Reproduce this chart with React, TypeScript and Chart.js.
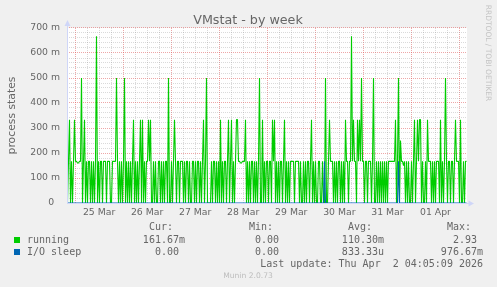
import { useEffect, useRef } from 'react';
import { Chart, registerables } from 'chart.js';

Chart.register(...registerables);

// ---------- data ----------
// time axis: hours since 25 Mar 00:00, one sample every 30 min (400 samples)
const X_MIN = -4.0;
const X_MAX = 195.75;
const dayLabels = ['25 Mar', '26 Mar', '27 Mar', '28 Mar', '29 Mar', '30 Mar', '31 Mar', '01 Apr'];
const yTickLabels = ['0', '100 m', '200 m', '300 m', '400 m', '500 m', '600 m', '700 m'];

// "running" in units of 1/6 (= 166.67 m)
const runningPart1 = [0,1,2,0,1,0,1,2,1,1, 0.96,0.96,1,1,3,0,1,2,0,1, 0,1,1,0,1,0,1,0,1,4, 0,1,0,1,1,0,1,1,1,0, 1,1,1,0,0,1,1,1,1,3];
const runningPart2 = [1,0,1,0,1,0,1,3,0,1, 0,1,0,1,0,1,2,0,1,0, 1,0,1,2,0,2,0,1,0,1, 1,2,1,2,0,0,1,0,1,0, 0,1,1,0,1,0,1,0,1,1];
const runningPart3 = [0,3,0,0,1,0,1,2,1,0, 1,1,0,1,1,1,0,1,0,1, 1,0,1,0,0,1,1,0,1,0, 1,1,0,1,0,1,2,0,1,3, 0,0,0,0,1,0,1,1,0,1];
const runningPart4 = [0,1,0,2,0,1,0,1,1,0, 1,2,0,1,2,0,1,0,1,2, 2,1,1,0.96,0.96,1,1,1,2,0, 1,0,1,0,1,1,0,1,0,1, 0,1,3,0,0,2,0,1,0,1];
const runningPart5 = [1,0,1,1,0,2,1,2,0,1, 0,1,0,1,1,0,1,2,0,1, 0,1,0,1,1,1,1,0,1,1, 1,1,0,1,0,0,1,0,1,0, 1,1,0,1,2,0,1,0,1,0];
const runningPart6 = [0,1,1,0,0,1,0,0,3,0, 0,1,2,1,1,1,0,1,0,1, 0,1,1,0,1,0,1,0,2,1, 1,0,1,1,4,1,2,1,1,0, 2,1,2,1,3,1,1,0,1,1];
const runningPart7 = [0,1,1,1,0,1,3,0,0,1, 0,1,0,1,0,1,0,1,0,1, 0,1,1,1,1,1,1,1,2,0, 1,3,0,1.5,1,1,0.9,1,0,1, 0,1,0,0,1,0,1,2,0,1];
const runningPart8 = [2,1,2,2,0,1,0,0,1,0, 2,1,1,1,0,1,0,1,0,1, 1,1,0,2,0,1,0,1,3,1, 0,1,1,0,1,1,0,1,2,1, 1,1,0,2,0,0,1,0,1,1];

// "I/O sleep" is 0 everywhere except these samples: [sample index, value in 1/6]
const ioSleepNonZero: [number, number][] = [[257, 1], [331, 1]];

const legendNames = ['running', 'I/O sleep'];
const legendColors = ['#00cc00', '#0066b3'];
const legendCur = ['161.67m', '0.00'];
const legendMin = ['0.00', '0.00'];
const legendAvg = ['110.30m', '833.33u'];
const legendMax = ['2.93', '976.67m'];
const lastUpdate = 'Last update: Thu Apr  2 04:05:09 2026';

// ---------- styling ----------
const FONT = '"DejaVu Sans"';
const MONO = '"DejaVu Sans Mono"';
const FONT_COLOR = '#666666';
const AXIS_COLOR = '#CFD6F8';
const MINOR_GRID = 'rgba(143,143,143,0.33)';
const MAJOR_GRID = 'rgba(222,79,79,0.5)';

const running = [
  ...runningPart1, ...runningPart2, ...runningPart3, ...runningPart4,
  ...runningPart5, ...runningPart6, ...runningPart7, ...runningPart8,
];
const SAMPLE_H = (X_MAX - X_MIN) / running.length;
const sampleX = (i: number) => X_MIN + (i + 0.5) * SAMPLE_H;
const runningPts = running.map((v, i) => ({ x: sampleX(i), y: v / 6 }));
const ioSleepPts = running.map((_, i) => {
  const hit = ioSleepNonZero.find((p) => p[0] === i);
  return { x: sampleX(i), y: hit ? hit[1] / 6 : 0 };
});

const xGridHours: number[] = [];
for (let h = 0; h <= X_MAX; h += 6) xGridHours.push(h);
const yGridValues: number[] = [];
for (let k = 0; k <= 35; k++) yGridValues.push(k * 0.02);

const decorPlugin = {
  id: 'decor',
  beforeDraw(chart: any) {
    const { ctx, chartArea: a } = chart;
    ctx.save();
    ctx.fillStyle = '#F0F0F0';
    ctx.fillRect(0, 0, chart.width, chart.height);
    ctx.fillStyle = '#FFFFFF';
    ctx.fillRect(a.left, a.top, a.right - a.left, a.bottom - a.top);
    ctx.restore();
  },
  afterDatasetsDraw(chart: any) {
    const { ctx, chartArea: a } = chart;
    ctx.save();
    ctx.strokeStyle = AXIS_COLOR;
    ctx.fillStyle = AXIS_COLOR;
    ctx.lineWidth = 1;
    const ax = Math.round(a.left) + 0.5;
    const ay = Math.round(a.bottom) + 0.5;
    ctx.beginPath();
    ctx.moveTo(ax, ay);
    ctx.lineTo(ax, a.top - 2);
    ctx.moveTo(ax - 0.5, ay);
    ctx.lineTo(a.right + 2, ay);
    ctx.stroke();
    // arrow up
    ctx.beginPath();
    ctx.moveTo(ax - 3, a.top - 2);
    ctx.lineTo(ax + 3, a.top - 2);
    ctx.lineTo(ax, a.top - 8);
    ctx.closePath();
    ctx.fill();
    // arrow right
    ctx.beginPath();
    ctx.moveTo(a.right + 1.5, ay - 3);
    ctx.lineTo(a.right + 1.5, ay + 3);
    ctx.lineTo(a.right + 7, ay);
    ctx.closePath();
    ctx.fill();
    ctx.restore();
  },
  afterDraw(chart: any) {
    const { ctx } = chart;
    ctx.save();
    ctx.fillStyle = FONT_COLOR;
    // title
    ctx.font = `12.7px ${FONT}`;
    ctx.textAlign = 'center';
    ctx.textBaseline = 'alphabetic';
    ctx.fillText('VMstat - by week', 248, 24);
    // y title
    ctx.save();
    ctx.translate(14.5, 115.5);
    ctx.rotate(-Math.PI / 2);
    ctx.font = `10.8px ${FONT}`;
    ctx.fillText('process states', 0, 0);
    ctx.restore();
    // watermark
    ctx.save();
    ctx.translate(485.5, 53);
    ctx.rotate(Math.PI / 2);
    ctx.font = `7.5px ${FONT}`;
    ctx.fillStyle = '#c4c4c4';
    ctx.fillText('RRDTOOL / TOBI OETIKER', 0, 0);
    ctx.restore();
    // legend
    ctx.font = `10px ${MONO}`;
    ctx.textBaseline = 'middle';
    ctx.textAlign = 'left';
    ctx.fillText('Cur:', 149, 227);
    ctx.fillText('Min:', 249, 227);
    ctx.fillText('Avg:', 348, 227);
    ctx.fillText('Max:', 447, 227);
    const pad = (s: string) => (/[a-z]$/i.test(s) ? s : s + ' ');
    legendNames.forEach((name, r) => {
      const y = 240 + r * 12;
      ctx.fillStyle = legendColors[r];
      ctx.fillRect(14, y - 3, 6, 6);
      ctx.fillStyle = FONT_COLOR;
      ctx.textAlign = 'left';
      ctx.fillText(name, 27, y);
      ctx.textAlign = 'right';
      ctx.fillText(pad(legendCur[r]), 185, y);
      ctx.fillText(pad(legendMin[r]), 285, y);
      ctx.fillText(pad(legendAvg[r]), 384, y);
      ctx.fillText(pad(legendMax[r]), 483, y);
    });
    ctx.textAlign = 'right';
    ctx.fillText(lastUpdate, 483, 264);
    // munin version
    ctx.textAlign = 'center';
    ctx.font = `7.6px ${FONT}`;
    ctx.fillStyle = '#bdbdbd';
    ctx.fillText('Munin 2.0.73', 248, 276);
    ctx.restore();
  },
};

export default function App() {
  const ref = useRef<HTMLCanvasElement | null>(null);
  useEffect(() => {
    document.body.style.margin = '0';
    const canvas = ref.current;
    if (!canvas) return;
    const chart = new Chart(canvas, {
      type: 'line',
      data: {
        datasets: [
          {
            label: 'running',
            data: runningPts,
            borderColor: legendColors[0],
            borderWidth: 1.1,
            pointRadius: 0,
            tension: 0,
            borderJoinStyle: 'bevel',
            order: 2,
          },
          {
            label: 'I/O sleep',
            data: ioSleepPts,
            borderColor: legendColors[1],
            borderWidth: 1.1,
            pointRadius: 0,
            tension: 0,
            borderJoinStyle: 'bevel',
            order: 1,
          },
        ],
      },
      options: {
        animation: false,
        responsive: false,
        events: [],
        layout: { padding: { top: 28, right: 30, left: 0, bottom: 0 } },
        plugins: { legend: { display: false }, tooltip: { enabled: false }, title: { display: false } },
        scales: {
          x: {
            type: 'linear',
            min: X_MIN,
            max: X_MAX,
            afterBuildTicks: (s: any) => {
              s.ticks = xGridHours.map((v) => ({ value: v }));
            },
            afterFit: (s: any) => {
              s.height = 84;
            },
            ticks: {
              autoSkip: false,
              maxRotation: 0,
              minRotation: 0,
              padding: 4,
              color: FONT_COLOR,
              font: { family: 'DejaVu Sans', size: 9.3 },
              callback: (v: any) => {
                const h = Number(v);
                if ((h - 12) % 24 === 0) return dayLabels[(h - 12) / 24] ?? '';
                return '';
              },
            },
            grid: {
              color: (c: any) => (c.tick && Math.round(c.tick.value) % 24 === 0 ? MAJOR_GRID : MINOR_GRID),
              drawTicks: false,
              lineWidth: 1,
            },
            border: { display: false, dash: [1, 1] },
          },
          y: {
            type: 'linear',
            min: 0,
            max: 0.7,
            afterBuildTicks: (s: any) => {
              s.ticks = yGridValues.map((v) => ({ value: v }));
            },
            afterFit: (s: any) => {
              s.width = 67;
            },
            ticks: {
              autoSkip: false,
              padding: 7,
              color: FONT_COLOR,
              font: { family: 'DejaVu Sans', size: 9.3 },
              callback: (v: any) => {
                const m = Math.round(Number(v) * 1000);
                if (m % 100 !== 0) return '';
                const lab = yTickLabels[m / 100];
                return m === 0 ? lab + '  ' : lab;
              },
            },
            grid: {
              color: (c: any) =>
                c.tick && Math.round(c.tick.value * 1000) % 100 === 0 ? MAJOR_GRID : MINOR_GRID,
              drawTicks: false,
              lineWidth: 1,
            },
            border: { display: false, dash: [1, 1] },
          },
        },
      } as any,
      plugins: [decorPlugin],
    });
    return () => chart.destroy();
  }, []);
  return (
    <div style={{ width: 497, height: 287 }}>
      <canvas ref={ref} width={497} height={287} style={{ display: 'block' }} />
    </div>
  );
}
